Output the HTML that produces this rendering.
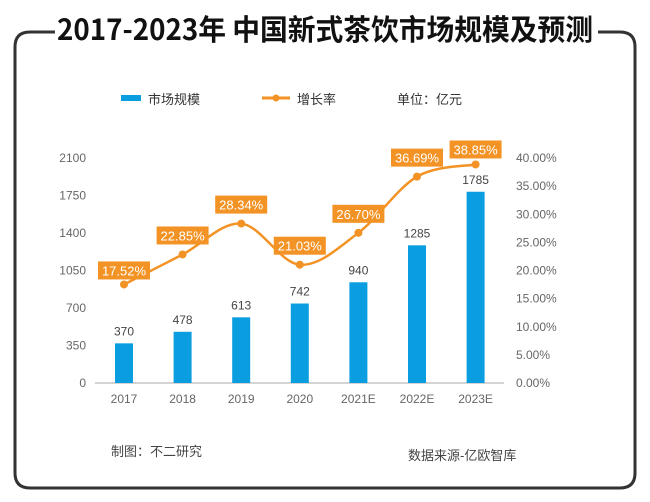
<!DOCTYPE html>
<html><head><meta charset="utf-8"><style>
body{margin:0;background:#fff;width:650px;height:502px;overflow:hidden}
svg{display:block}
text{font-family:"Liberation Sans","Noto Sans CJK SC",sans-serif}
</style></head><body>
<svg id="chart" width="650" height="502">
<path d="M55 32 H30 Q15 32 15 47 V473 Q15 488 30 488 H620 Q635 488 635 473 V47 Q635 32 620 32 H598" fill="none" stroke="#333" stroke-width="3"/>
<text x="325" y="40" text-anchor="middle" font-size="29" font-weight="bold" fill="#111" style="font-family:'Noto Sans CJK SC',sans-serif" textLength="536" lengthAdjust="spacingAndGlyphs">2017-2023年 中国新式茶饮市场规模及预测</text>
<g>
<rect x="121" y="95" width="20" height="6" fill="#0a9ee0"/>
<text x="148" y="104" font-size="13" fill="#333">市场规模</text>
<line x1="262" y1="98" x2="290" y2="98" stroke="#f39325" stroke-width="3"/>
<circle cx="276" cy="98" r="3.5" fill="#f39325"/>
<text x="297" y="104" font-size="13" fill="#333">增长率</text>
<text x="397" y="104" font-size="13" fill="#333">单位：亿元</text>
</g>
<g id="plot"></g>
<text x="111" y="456" font-size="13" fill="#444">制图：不二研究</text>
<text x="408" y="460" font-size="13" fill="#444">数据来源-亿欧智库</text>
</svg>
<script>
const categories=["2017","2018","2019","2020","2021E","2022E","2023E"];
const marketSize=[370,478,613,742,940,1285,1785];
const growthRate=[17.52,22.85,28.34,21.03,26.70,36.69,38.85];
const leftTicks=[0,350,700,1050,1400,1750,2100];
const rightTicks=[0,5,10,15,20,25,30,35,40];
const NS="http://www.w3.org/2000/svg";
const g=document.getElementById('plot');
const y0=383,y1=158,x0=95,step=58.6;
const yL=v=>y0-(v/2100)*(y0-y1);
const yR=v=>y0-(v/40)*(y0-y1);
const xC=i=>124+i*step;
function mk(t,a,txt){const e=document.createElementNS(NS,t);for(const k in a)e.setAttribute(k,a[k]);if(txt!==undefined)e.textContent=txt;g.appendChild(e);return e;}
leftTicks.forEach(v=>{const e=mk('text',{x:86,y:yL(v)+4,'text-anchor':'end','font-size':12,fill:'#666'},String(v));

});
rightTicks.forEach(v=>{const e=mk('text',{x:516,y:yR(v)+4,'font-size':12,fill:'#666'},v.toFixed(2)+'%');

});
const ax=mk('line',{x1:x0,y1:y0,x2:504,y2:y0,stroke:'#aaa','stroke-width':1});


categories.forEach((c,i)=>{
const t=mk('text',{x:xC(i),y:403,'text-anchor':'middle','font-size':12,fill:'#666'},c);


const b=mk('rect',{x:xC(i)-9,y:yL(marketSize[i]),width:18,height:y0-yL(marketSize[i]),fill:'#0a9ee0'});


const l=mk('text',{x:xC(i),y:yL(marketSize[i])-8,'text-anchor':'middle','font-size':12,fill:'#444'},String(marketSize[i]));


});
const pts=growthRate.map((v,i)=>[xC(i),yR(v)]);
let d='M'+pts[0][0]+' '+pts[0][1];
for(let i=0;i<pts.length-1;i++){const p0=pts[Math.max(i-1,0)],p1=pts[i],p2=pts[i+1],p3=pts[Math.min(i+2,pts.length-1)];
d+=` C${p1[0]+(p2[0]-p0[0])/6} ${p1[1]+(p2[1]-p0[1])/6} ${p2[0]-(p3[0]-p1[0])/6} ${p2[1]-(p3[1]-p1[1])/6} ${p2[0]} ${p2[1]}`;}
const ln=mk('path',{d:d,fill:'none',stroke:'#f39325','stroke-width':2.5});


pts.forEach((p,i)=>{
const c=mk('circle',{cx:p[0],cy:p[1],r:4,fill:'#f39325'});


const lx=p[0],ly=p[1]-(i===0?14:i===5?19:i===6?15:19);
const r=mk('rect',{x:lx-26,y:ly-9,width:52,height:18,fill:'#f39325'});


const t=mk('text',{x:lx,y:ly+5,'text-anchor':'middle','font-size':13,fill:'#fff'},growthRate[i].toFixed(2)+'%');


});
</script>
</body></html>
